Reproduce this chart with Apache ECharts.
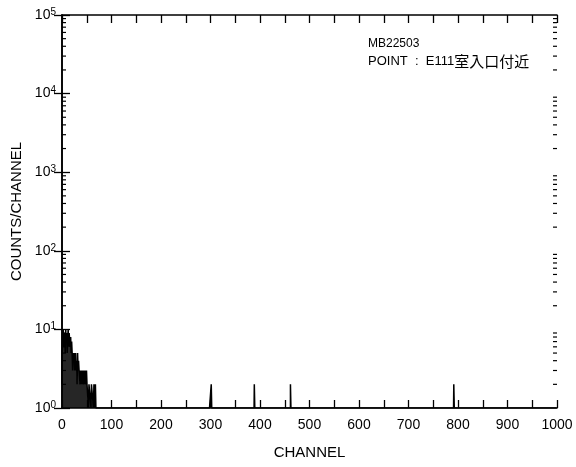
<!DOCTYPE html>
<html>
<head>
<meta charset="utf-8">
<script src="https://cdn.jsdelivr.net/npm/echarts@6/dist/echarts.min.js"></script>
<style>html,body{margin:0;padding:0;background:#fff}#c{width:576px;height:467px}</style>
</head>
<body>
<div id="c"></div>
<script>
// Counts per channel for the low-energy region (channel 0 .. 68)
var lowStart = 0;
var lowCounts = [2,5,7,10,6,9,8,5,10,7,9,5,8,10,6,9,7,6,8,5,7,
  5,3,5,4,5,3,4,5,3,4,2,5,3,4,3,
  3,2,3,2,3,2,3,2,2,3,2,3,2,2,3,2,2,
  2,1,2,2,2,2,1,2,2,2,2,1,2,2,1,2];
// Isolated peaks: channel and counts
var peakChannels = [302, 389, 462, 792];
var peakCounts = [2, 2, 2, 2];
var channelMax = 1000;
var xTicks = [0,100,200,300,400,500,600,700,800,900,1000];
var yDecades = [0,1,2,3,4,5];
var minorMultipliers = [2,3,4,5,6,7,8,9];
var sampleId = 'MB22503';
var pointLatin = 'POINT  :  E111';
var pointKanji = '室入口付近';

// build spectrum (channels without counts sit on the 10^0 baseline)
var spectrum = [];
for (var ch = 0; ch <= channelMax; ch++) spectrum.push([ch, 1]);
lowCounts.forEach(function (v, i) { spectrum[lowStart + i][1] = v; });
peakChannels.forEach(function (c, i) { spectrum[c][1] = peakCounts[i]; });

var minorVals = [];
yDecades.slice(0, -1).forEach(function (d) {
  minorMultipliers.forEach(function (m) {
    var v = m * Math.pow(10, d);
    minorVals.push([xTicks[0], v, 1]);
    minorVals.push([xTicks[xTicks.length - 1], v, -1]);
  });
});

var chart = echarts.init(document.getElementById('c'));
var font = 'Liberation Sans, Arial, sans-serif';
var axLine = { show: true, lineStyle: { color: '#000', width: 1.6 } };
var xCommon = {
  type: 'value', min: xTicks[0], max: xTicks[xTicks.length - 1], interval: 100,
  axisLine: axLine,
  axisTick: { show: true, inside: true, length: 8, lineStyle: { color: '#000', width: 1.3 } },
  minorTick: { show: true, splitNumber: 2, length: 8, lineStyle: { color: '#000', width: 1.3 } },
  splitLine: { show: false }, minorSplitLine: { show: false }
};
var yCommon = {
  type: 'log', logBase: 10, min: Math.pow(10, yDecades[0]), max: Math.pow(10, yDecades[yDecades.length - 1]),
  axisLine: axLine,
  axisTick: { show: true, inside: true, length: 8, lineStyle: { color: '#000', width: 1.3 } },
  splitLine: { show: false }
};

chart.setOption({
  backgroundColor: '#fff',
  animation: false,
  grid: { left: 62, right: 19, top: 15, bottom: 59, outerBoundsMode: 'none', containLabel: false },
  xAxis: [
    Object.assign({}, xCommon, {
      position: 'bottom',
      name: 'CHANNEL', nameLocation: 'middle', nameGap: 37,
      nameTextStyle: { color: '#000', fontSize: 15, fontFamily: font },
      axisLabel: { color: '#000', fontSize: 14, fontFamily: font, margin: 10,
        formatter: function (v) { return String(v); } }
    }),
    Object.assign({}, xCommon, { position: 'top', axisLabel: { show: false } })
  ],
  yAxis: [
    Object.assign({}, yCommon, {
      position: 'left',
      name: 'COUNTS/CHANNEL', nameLocation: 'middle', nameGap: 35,
      nameTextStyle: { color: '#000', fontSize: 15, fontFamily: font },
      axisLabel: {
        color: '#000', margin: 6,
        formatter: function (v) { return '{b|10}{s|' + Math.round(Math.log10(v)) + '}'; },
        rich: {
          b: { fontSize: 14, fontFamily: font, color: '#000', lineHeight: 16 },
          s: { fontSize: 10, fontFamily: font, color: '#000', lineHeight: 16, verticalAlign: 'top', padding: [0, 0, 6, 0] }
        }
      }
    }),
    Object.assign({}, yCommon, { position: 'right', axisLabel: { show: false } })
  ],
  graphic: [
    { type: 'text', left: 368, top: 38, style: { text: sampleId, fontSize: 12, fontFamily: font, fill: '#000' } },
    { type: 'text', left: 368, top: 54, style: {
      text: '{a|' + pointLatin + '}{c|' + pointKanji + '}',
      rich: {
        a: { fontSize: 13, fontFamily: font, fill: '#000', lineHeight: 17 },
        c: { fontSize: 15, fontFamily: '"Noto Sans CJK JP", sans-serif', fill: '#000', lineHeight: 17 }
      } } }
  ],
  series: [
    {
      type: 'line', step: 'middle', showSymbol: false, symbol: 'none',
      xAxisIndex: 0, yAxisIndex: 0,
      data: spectrum,
      lineStyle: { color: '#000', width: 1.5 },
      areaStyle: { color: '#000', opacity: 0.85 }
    },
    {
      type: 'custom', xAxisIndex: 0, yAxisIndex: 0, data: minorVals, silent: true, clip: false,
      encode: { x: 0, y: 1 },
      renderItem: function (params, api) {
        var p = api.coord([api.value(0), api.value(1)]);
        var dir = api.value(2);
        return { type: 'line', shape: { x1: p[0], y1: p[1], x2: p[0] + 4 * dir, y2: p[1] },
          style: { stroke: '#000', lineWidth: 1.2 } };
      }
    }
  ]
});
</script>
</body>
</html>
